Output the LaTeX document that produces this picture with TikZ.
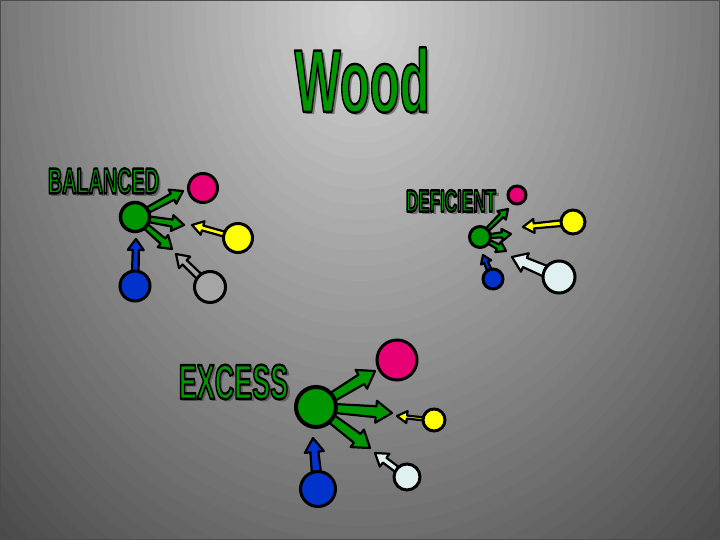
\documentclass[tikz,border=0pt]{standalone}
\usepackage{fontspec}
\newfontfamily\headfont{Liberation Sans}
\usetikzlibrary{calc}

\definecolor{woodgreen}{RGB}{0,150,0}
\definecolor{firepink}{RGB}{230,0,115}
\definecolor{earthyellow}{RGB}{255,255,0}
\definecolor{waterblue}{RGB}{0,51,204}
\definecolor{metalwhite}{RGB}{224,240,240}
\definecolor{metalgrey}{RGB}{165,165,165}

\pgfdeclarelayer{bg}
\pgfdeclarelayer{arrowlayer}
\pgfsetlayers{bg,arrowlayer,main}

\tikzset{
	ball/.style={circle, draw=black, line width=3pt, inner sep=0pt},
	fat/.style={draw=black, line width=2.2pt, line join=round},
	headtext/.style={inner sep=0pt, font=\headfont\bfseries},
}

% text filled in the current colour and stroked in black
\newcommand\lbl[2]{\fontsize{#1}{#1}\selectfont\scalebox{0.55}[1]{%
	\special{pdf:literal direct 2 Tr 2.4 w 0 0 0 RG 1 j}#2\special{pdf:literal direct 0 Tr}}}
\newcommand\plainlbl[2]{\fontsize{#1}{#1}\selectfont\scalebox{0.55}[1]{#2}}

% green heading with a drop shadow
\newcommand\headline[4]{%
	\node[headtext, text=black!75, opacity=0.6] (#1-shadow) at ($(#2)+(3,3)$) {\plainlbl{#3}{#4}};
	\node[headtext, text=woodgreen] (#1) at (#2) {\lbl{#3}{#4}};
}

% from, to, colour, tail half-width, neck half-width, head half-width, head length
\newcommand\fatarrow[7]{%
	\coordinate (#2-neck) at ($(#2)!#7!(#1)$);
	\path[fat, fill=#3] ($(#1)!#4!90:(#2)$) -- ($(#2-neck)!#5!-90:(#1)$)
		-- ($(#2-neck)!#6!-90:(#1)$) -- (#2) -- ($(#2-neck)!#6!90:(#1)$)
		-- ($(#2-neck)!#5!90:(#1)$) -- ($(#1)!#4!-90:(#2)$) -- cycle;
}

\begin{document}
\begin{tikzpicture}[x=1pt,y=-1pt]
	\useasboundingbox (0,0) rectangle (720,540);
	
	% background
	\begin{pgfonlayer}{bg}
		\clip (0,0) rectangle (720,540);
		\fill[black!72] (0,0) rectangle (720,540);
		\foreach \D in {138,135,...,0}{
			\pgfmathtruncatemacro\g{212-\D}
			\definecolor{bgstep}{RGB}{\g,\g,\g}
			\fill[bgstep] (360,20) ellipse ({3.91*\D+1} and {5.1*\D+1});
		}
		\draw[black!70, line width=2] (0,0) rectangle (720,540);
	\end{pgfonlayer}
	
	\headline{title}{362,80}{89}{Wood}
	\headline{balanced}{103.5,181}{36}{BALANCED}
	\headline{deficient}{451,201}{31}{DEFICIENT}
	\headline{excess}{233.5,382}{49}{EXCESS}
	
	% balanced
	\node[ball, fill=woodgreen, minimum size=29, line width=3.5] (bal-green) at (135,217) {};
	\node[ball, fill=firepink, minimum size=29] (bal-fire) at (203,188) {};
	\node[ball, fill=earthyellow, minimum size=29] (bal-earth) at (238,238) {};
	\node[ball, fill=metalgrey, minimum size=31] (bal-metal) at (210,287) {};
	\node[ball, fill=waterblue, minimum size=30] (bal-water) at (135,286) {};
	\coordinate (bal-t1) at (183,191);
	\coordinate (bal-t2) at (184,225);
	\coordinate (bal-t3) at (172,249);
	\coordinate (bal-ty) at (192,225);
	\coordinate (bal-tm) at (176,254);
	\coordinate (bal-tw) at (136,239);
	
	% deficient
	\node[ball, fill=woodgreen, minimum size=21] (def-green) at (480,237) {};
	\node[ball, fill=firepink, minimum size=18] (def-fire) at (517,195) {};
	\node[ball, fill=earthyellow, minimum size=24] (def-earth) at (573,222) {};
	\node[ball, fill=metalwhite, minimum size=32] (def-metal) at (559,277) {};
	\node[ball, fill=waterblue, minimum size=20] (def-water) at (493,279) {};
	\coordinate (def-t1) at (508,209);
	\coordinate (def-t2) at (511,234);
	\coordinate (def-t3) at (506,251);
	\coordinate (def-ty) at (523,227);
	\coordinate (def-tm) at (512,257);
	\coordinate (def-tw) at (483,255);
	
	% excess
	\node[ball, fill=woodgreen, minimum size=40, line width=4] (exc-green) at (316,407) {};
	\node[ball, fill=firepink, minimum size=40] (exc-fire) at (397,360) {};
	\node[ball, fill=earthyellow, minimum size=22] (exc-earth) at (434,420) {};
	\node[ball, fill=metalwhite, minimum size=26] (exc-metal) at (407,477) {};
	\node[ball, fill=waterblue, minimum size=35] (exc-water) at (318,489) {};
	\coordinate (exc-t1) at (375,371);
	\coordinate (exc-t2) at (392,413);
	\coordinate (exc-t3) at (370,448);
	\coordinate (exc-ty) at (397,416);
	\coordinate (exc-tm) at (375,453);
	\coordinate (exc-tw) at (313,438);
	
	\begin{pgfonlayer}{arrowlayer}
		\foreach \t in {1,2,3}{
			\fatarrow{bal-green.center}{bal-t\t}{woodgreen}{2.5pt}{3.5pt}{8pt}{12pt}
			\fatarrow{def-green.center}{def-t\t}{woodgreen}{1.5pt}{2.5pt}{6pt}{9pt}
			\fatarrow{exc-green.center}{exc-t\t}{woodgreen}{4pt}{5.5pt}{11pt}{16pt}
		}
		\fatarrow{bal-earth.center}{bal-ty}{earthyellow}{2.5pt}{2.5pt}{7pt}{11pt}
		\fatarrow{bal-metal.center}{bal-tm}{metalgrey}{3.5pt}{3pt}{8pt}{12pt}
		\fatarrow{bal-water.center}{bal-tw}{waterblue}{3.5pt}{3pt}{8pt}{11pt}
		\fatarrow{def-earth.center}{def-ty}{earthyellow}{3pt}{2.5pt}{7pt}{11pt}
		\fatarrow{def-metal.center}{def-tm}{metalwhite}{6pt}{5pt}{10pt}{14pt}
		\fatarrow{def-water.center}{def-tw}{waterblue}{2.5pt}{2pt}{5.5pt}{8pt}
		\fatarrow{exc-earth.center}{exc-ty}{earthyellow}{1.5pt}{1.5pt}{6pt}{10pt}
		\fatarrow{exc-metal.center}{exc-tm}{metalwhite}{3pt}{3pt}{8pt}{12pt}
		\fatarrow{exc-water.center}{exc-tw}{waterblue}{5pt}{4pt}{9.5pt}{14pt}
	\end{pgfonlayer}
\end{tikzpicture}
\end{document}
